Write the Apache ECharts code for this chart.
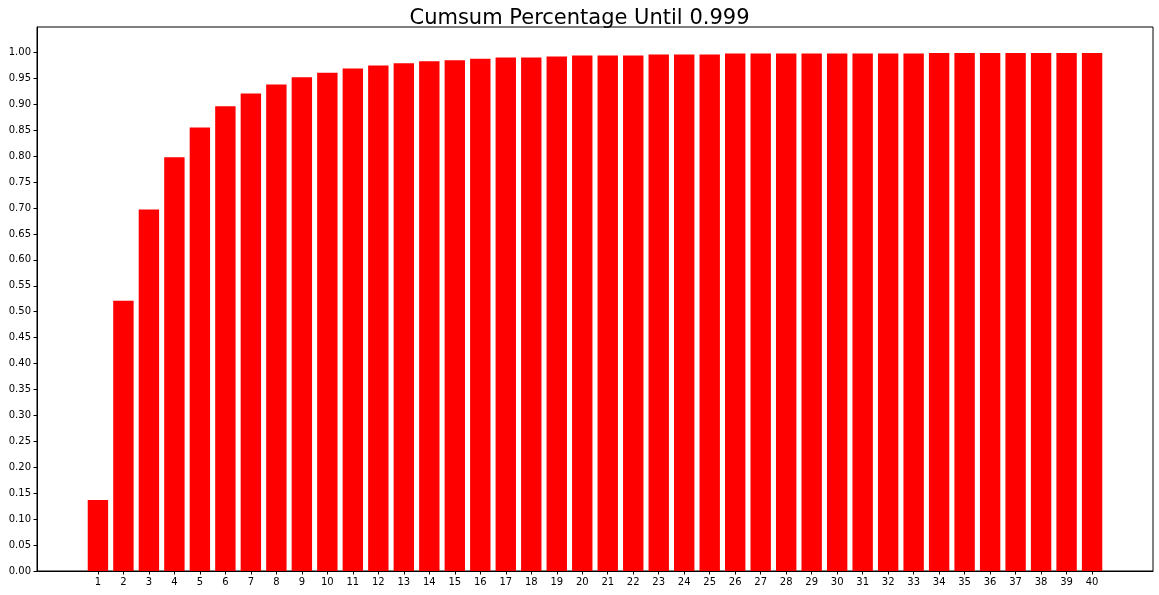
<!DOCTYPE html>
<html><head><meta charset="utf-8">
<script src="https://cdn.jsdelivr.net/npm/echarts@6/dist/echarts.min.js"></script>
<style>html,body{margin:0;padding:0;background:#fff}#c{width:1159px;height:595px}</style>
</head><body><div id="c"></div>
<script>
const categories = [1,2,3,4,5,6,7,8,9,10,11,12,13,14,15,16,17,18,19,20,21,22,23,24,25,26,27,28,29,30,31,32,33,34,35,36,37,38,39,40];
const cumsumValues = [0.137,0.521,0.697,0.798,0.855,0.896,0.921,0.938,0.952,0.961,0.969,0.975,0.979,0.983,0.985,0.988,0.990,0.990,0.992,0.994,0.994,0.994,0.996,0.996,0.996,0.998,0.998,0.998,0.998,0.998,0.998,0.998,0.998,0.999,0.999,0.999,0.999,0.999,0.999,0.999];
const yTicks = [0,0.05,0.10,0.15,0.20,0.25,0.30,0.35,0.40,0.45,0.50,0.55,0.60,0.65,0.70,0.75,0.80,0.85,0.90,0.95,1.00];
const titleText = 'Cumsum Percentage Until 0.999';

const chart = echarts.init(document.getElementById('c'), null, {renderer:'canvas'});
const font = 'DejaVu Sans';
chart.setOption({
  animation:false,
  title:{text:titleText,left:'center',top:3,textStyle:{fontFamily:font,fontSize:21,fontWeight:'normal',color:'#000'}},
  grid:{left:37,right:6,top:27,bottom:24,show:true,borderColor:'#000',borderWidth:1,backgroundColor:'transparent'},
  xAxis:{type:'value',min:-1.39,max:42.39,
    axisLine:{show:true,onZero:false,lineStyle:{color:'#000',width:1}},
    splitLine:{show:false},
    axisTick:{show:true,length:3.5,lineStyle:{color:'#000'},customValues:categories},
    axisLabel:{fontFamily:font,fontSize:10,color:'#000',margin:6,customValues:categories,formatter:v=>String(v)}
  },
  yAxis:{type:'value',min:0,max:1.049,
    axisLine:{show:true,onZero:false,lineStyle:{color:'#000',width:1}},
    splitLine:{show:false},
    axisTick:{show:true,length:3.5,lineStyle:{color:'#000'},customValues:yTicks},
    axisLabel:{fontFamily:font,fontSize:10,color:'#000',margin:6,customValues:yTicks,formatter:v=>v.toFixed(2)}
  },
  series:[{type:'bar',data:categories.map((c,i)=>[c,cumsumValues[i]]),barWidth:20.4,itemStyle:{color:'#ff0000'}}]
});
</script></body></html>
